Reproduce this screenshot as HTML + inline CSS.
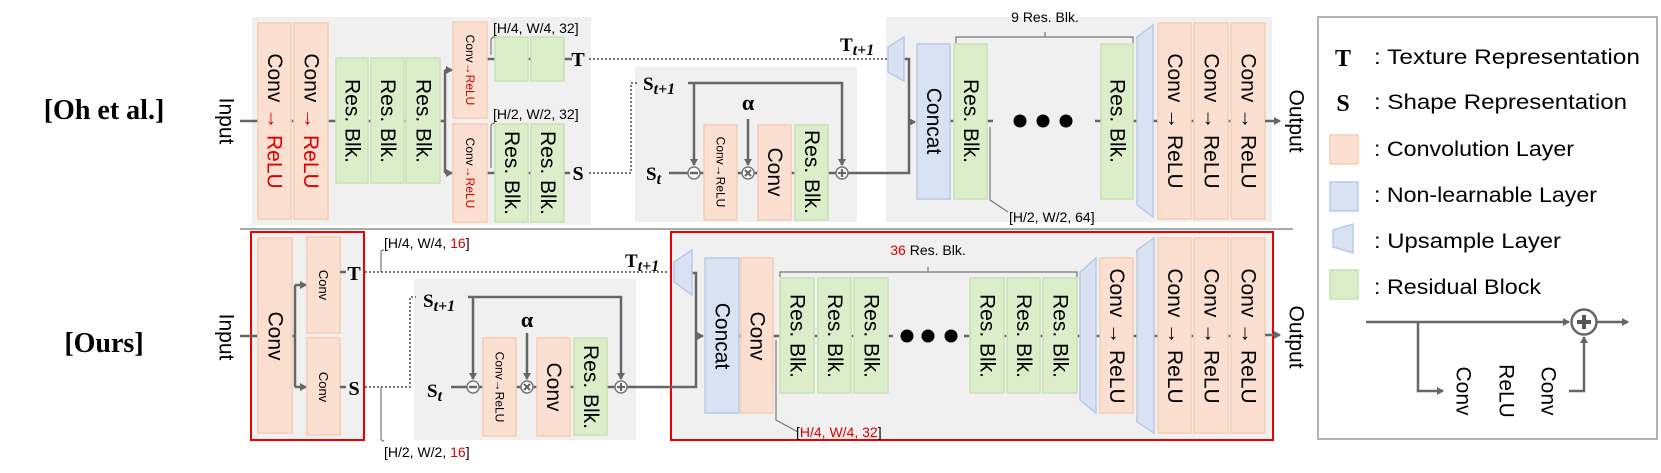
<!DOCTYPE html>
<html><head><meta charset="utf-8"><style>
html,body{margin:0;padding:0;background:#fff;}
svg{display:block}
text{font-family:"Liberation Sans",sans-serif;}
.o{fill:#fbe0d1;stroke:#f7cdb3;stroke-width:1.5}
.g{fill:#dcedca;stroke:#c8e2b2;stroke-width:1.5}
.b{fill:#d9e2f3;stroke:#b8cae8;stroke-width:1.5}
.bg{fill:#f0f0f0}
.ln{stroke:#666;stroke-width:2.5;fill:none}
.th{stroke:#777;stroke-width:1.2;fill:none}
.dt{stroke:#777;stroke-width:2;stroke-dasharray:2,2;fill:none}
.L{font-size:21px}
.M{font-size:13px}
.S{font-size:12px}
.sf{font-family:"Liberation Serif",serif;font-weight:bold}
</style></head><body>
<svg width="1661" height="473" viewBox="0 0 1661 473" xmlns="http://www.w3.org/2000/svg">
<defs>
<marker id="ar" markerWidth="8" markerHeight="8" refX="6" refY="4" orient="auto" markerUnits="userSpaceOnUse"><path d="M0,0 L7,4 L0,8 z" fill="#666"/></marker>
</defs>

<text x="104" y="119" class="sf" font-size="28" text-anchor="middle">[Oh et al.]</text>
<text x="104" y="352" class="sf" font-size="28" text-anchor="middle">[Ours]</text>
<line x1="240" y1="229" x2="1293" y2="229" stroke="#aaa" stroke-width="2"/>

<!-- ============ TOP ROW ============ -->
<rect class="bg" x="252" y="17" width="339" height="208"/>
<rect class="bg" x="635" y="67" width="222" height="155"/>
<rect class="bg" x="886" y="17" width="386" height="205"/>

<text class="L" transform="translate(226,121) rotate(90)" text-anchor="middle" dominant-baseline="central">Input</text>
<line class="ln" x1="240" y1="121" x2="445" y2="121"/>
<path class="ln" d="M445,70 V173"/>
<path class="ln" d="M445,70 H452" marker-end="url(#ar)"/>
<path class="ln" d="M445,173 H452" marker-end="url(#ar)"/>
<line class="ln" x1="487" y1="59" x2="572" y2="59"/>
<line class="ln" x1="487" y1="173" x2="570" y2="173"/>

<rect class="o" x="258" y="23" width="33" height="196"/>
<rect class="o" x="294" y="23" width="34" height="196"/>
<text class="L" transform="translate(274.5,121) rotate(90)" text-anchor="middle" dominant-baseline="central">Conv <tspan fill="#d00">→ ReLU</tspan></text>
<text class="L" transform="translate(311,121) rotate(90)" text-anchor="middle" dominant-baseline="central">Conv <tspan fill="#d00">→ ReLU</tspan></text>
<rect class="g" x="336" y="58" width="32" height="125"/>
<rect class="g" x="371" y="58" width="33" height="125"/>
<rect class="g" x="406" y="58" width="34" height="125"/>
<text class="L" transform="translate(352,121) rotate(90)" text-anchor="middle" dominant-baseline="central">Res. Blk.</text>
<text class="L" transform="translate(387.5,121) rotate(90)" text-anchor="middle" dominant-baseline="central">Res. Blk.</text>
<text class="L" transform="translate(423,121) rotate(90)" text-anchor="middle" dominant-baseline="central">Res. Blk.</text>

<rect class="o" x="453" y="22" width="34" height="96"/>
<rect class="o" x="453" y="124" width="34" height="98"/>
<text class="S" transform="translate(470,70) rotate(90)" text-anchor="middle" dominant-baseline="central">Conv<tspan fill="#d00">→ReLU</tspan></text>
<text class="S" transform="translate(470,173) rotate(90)" text-anchor="middle" dominant-baseline="central">Conv<tspan fill="#d00">→ReLU</tspan></text>
<rect class="g" x="495" y="37" width="33" height="44"/>
<rect class="g" x="531" y="37" width="33" height="44"/>
<rect class="g" x="495" y="124" width="33" height="98"/>
<rect class="g" x="531" y="124" width="33" height="98"/>
<text class="L" transform="translate(511.5,173) rotate(90)" text-anchor="middle" dominant-baseline="central">Res. Blk.</text>
<text class="L" transform="translate(547.5,173) rotate(90)" text-anchor="middle" dominant-baseline="central">Res. Blk.</text>
<text x="493" y="33" font-size="14">[H/4, W/4, 32]</text>
<path class="th" d="M495,37 Q491,37 491,41 V55"/>
<text x="493" y="119" font-size="14">[H/2, W/2, 32]</text>
<path class="th" d="M495,123 Q491,123 491,127 V168"/>
<text x="578" y="66" class="sf" font-size="20" text-anchor="middle">T</text>
<text x="578" y="180" class="sf" font-size="20" text-anchor="middle">S</text>

<path class="dt" d="M589,59 H887"/>
<path class="dt" d="M589,173 H631 V83 H637"/>
<text x="840" y="51" class="sf" font-size="19">T<tspan font-style="italic" font-size="16" dy="4">t+1</tspan></text>

<text x="643" y="90" class="sf" font-size="19">S<tspan font-style="italic" font-size="16" dy="4">t+1</tspan></text>
<text x="646" y="180" class="sf" font-size="19">S<tspan font-style="italic" font-size="16" dy="4">t</tspan></text>
<text x="748" y="110" class="sf" font-size="22" text-anchor="middle">α</text>
<path class="ln" d="M688,83 H842 V165" marker-end="url(#ar)"/>
<path class="ln" d="M694,83 V165" marker-end="url(#ar)"/>
<path class="ln" d="M748,119 V165" marker-end="url(#ar)"/>
<line class="ln" x1="669" y1="173" x2="836" y2="173"/>
<path class="ln" d="M848,173 H909 V59 H904"/>
<path class="ln" d="M909,122 H915" marker-end="url(#ar)"/>
<rect class="o" x="704" y="125" width="33" height="95"/>
<rect class="o" x="758" y="125" width="33" height="95"/>
<rect class="g" x="795" y="125" width="33" height="95"/>
<text class="S" transform="translate(720.5,172) rotate(90)" text-anchor="middle" dominant-baseline="central">Conv→ReLU</text>
<text class="L" transform="translate(774.5,172) rotate(90)" text-anchor="middle" dominant-baseline="central">Conv</text>
<text class="L" transform="translate(811.5,172) rotate(90)" text-anchor="middle" dominant-baseline="central">Res. Blk.</text>
<circle cx="694" cy="173" r="6" fill="#fff" stroke="#777" stroke-width="1.5"/><line x1="690" y1="173" x2="698" y2="173" stroke="#666" stroke-width="2.5"/>
<circle cx="748" cy="173" r="6" fill="#fff" stroke="#777" stroke-width="1.5"/><path d="M745,170 L751,176 M751,170 L745,176" stroke="#666" stroke-width="2.2"/>
<circle cx="842" cy="173" r="6" fill="#fff" stroke="#777" stroke-width="1.5"/><path d="M838,173 H846 M842,169 V177" stroke="#666" stroke-width="2.2"/>

<polygon class="b" points="888,47 904,37 904,81 888,72"/>
<path class="ln" d="M950,121 H954 M987,121 H993 M1095,121 H1101 M1133,121 H1137 M1153,121 H1158 M1191,121 H1194 M1228,121 H1231"/>
<rect class="b" x="917" y="44" width="33" height="155"/>
<rect class="g" x="954" y="44" width="33" height="155"/>
<rect class="g" x="1101" y="44" width="32" height="155"/>
<text class="L" transform="translate(933.5,121) rotate(90)" text-anchor="middle" dominant-baseline="central">Concat</text>
<text class="L" transform="translate(970.5,121) rotate(90)" text-anchor="middle" dominant-baseline="central">Res. Blk.</text>
<text class="L" transform="translate(1117,121) rotate(90)" text-anchor="middle" dominant-baseline="central">Res. Blk.</text>
<circle cx="1020" cy="121" r="6.5"/><circle cx="1043" cy="121" r="6.5"/><circle cx="1066" cy="121" r="6.5"/>
<text x="1045" y="22" font-size="14" text-anchor="middle">9 Res. Blk.</text>
<path class="th" d="M956,43 V37 H1133 V43 M1045,37 V32" stroke-width="1.8"/>
<path class="th" d="M990,127 V200 L1008,212"/>
<text x="1009" y="222" font-size="14">[H/2, W/2, 64]</text>
<polygon class="b" points="1137,37 1153,25 1153,217 1137,205"/>
<rect class="o" x="1158" y="23" width="33" height="196"/>
<rect class="o" x="1194" y="23" width="34" height="196"/>
<rect class="o" x="1231" y="23" width="34" height="196"/>
<text class="L" transform="translate(1174.5,121) rotate(90)" text-anchor="middle" dominant-baseline="central">Conv → ReLU</text>
<text class="L" transform="translate(1211,121) rotate(90)" text-anchor="middle" dominant-baseline="central">Conv → ReLU</text>
<text class="L" transform="translate(1248,121) rotate(90)" text-anchor="middle" dominant-baseline="central">Conv → ReLU</text>
<path class="ln" d="M1265,121 H1280" marker-end="url(#ar)"/>
<text class="L" transform="translate(1296,121) rotate(90)" text-anchor="middle" dominant-baseline="central">Output</text>

<!-- ============ BOTTOM ROW ============ -->
<rect x="251" y="232" width="113" height="208" fill="#f0f0f0" stroke="#e00" stroke-width="2"/>
<rect class="bg" x="414" y="279" width="222" height="161"/>
<rect x="671" y="232" width="602" height="208" fill="#f0f0f0" stroke="#e00" stroke-width="2"/>

<text class="L" transform="translate(226,337) rotate(90)" text-anchor="middle" dominant-baseline="central">Input</text>
<line class="ln" x1="240" y1="336" x2="258" y2="336"/>
<line class="ln" x1="292" y1="336" x2="295" y2="336"/>
<path class="ln" d="M295,285 V387"/>
<path class="ln" d="M295,285 H306" marker-end="url(#ar)"/>
<path class="ln" d="M295,387 H306" marker-end="url(#ar)"/>
<rect class="o" x="258" y="238" width="34" height="195"/>
<text class="L" transform="translate(275,336) rotate(90)" text-anchor="middle" dominant-baseline="central">Conv</text>
<rect class="o" x="307" y="237" width="33" height="96"/>
<rect class="o" x="307" y="338" width="33" height="97"/>
<text class="M" transform="translate(323.5,285) rotate(90)" text-anchor="middle" dominant-baseline="central">Conv</text>
<text class="M" transform="translate(323.5,387) rotate(90)" text-anchor="middle" dominant-baseline="central">Conv</text>
<line class="ln" x1="340" y1="272" x2="346" y2="272"/>
<line class="ln" x1="340" y1="387" x2="346" y2="387"/>
<text x="354" y="280" class="sf" font-size="20" text-anchor="middle">T</text>
<text x="354" y="395" class="sf" font-size="20" text-anchor="middle">S</text>
<path class="dt" d="M365,272 H667"/>
<path class="dt" d="M365,387 H410 V297 H416"/>
<path class="th" d="M381,272 V252 Q381,250 384,250"/>
<text x="384" y="248" font-size="14">[H/4, W/4, <tspan fill="#d00">16</tspan>]</text>
<path class="th" d="M381,387 V438 Q381,441 384,441"/>
<text x="384" y="457" font-size="14">[H/2, W/2, <tspan fill="#d00">16</tspan>]</text>
<text x="625" y="267" class="sf" font-size="19">T<tspan font-style="italic" font-size="16" dy="4">t+1</tspan></text>

<text x="423" y="307" class="sf" font-size="19">S<tspan font-style="italic" font-size="16" dy="4">t+1</tspan></text>
<text x="427" y="397" class="sf" font-size="19">S<tspan font-style="italic" font-size="16" dy="4">t</tspan></text>
<text x="527" y="327" class="sf" font-size="22" text-anchor="middle">α</text>
<path class="ln" d="M468,297 H621 V379" marker-end="url(#ar)"/>
<path class="ln" d="M473,297 V379" marker-end="url(#ar)"/>
<path class="ln" d="M527,333 V379" marker-end="url(#ar)"/>
<line class="ln" x1="451" y1="387" x2="615" y2="387"/>
<path class="ln" d="M627,387 H696 V273 H692"/>
<path class="ln" d="M696,336 H703" marker-end="url(#ar)"/>
<rect class="o" x="483" y="338" width="33" height="98"/>
<rect class="o" x="537" y="338" width="33" height="98"/>
<rect class="g" x="574" y="338" width="33" height="97"/>
<text class="S" transform="translate(499.5,387) rotate(90)" text-anchor="middle" dominant-baseline="central">Conv→ReLU</text>
<text class="L" transform="translate(553.5,387) rotate(90)" text-anchor="middle" dominant-baseline="central">Conv</text>
<text class="L" transform="translate(590.5,387) rotate(90)" text-anchor="middle" dominant-baseline="central">Res. Blk.</text>
<circle cx="473" cy="387" r="6" fill="#fff" stroke="#777" stroke-width="1.5"/><line x1="469" y1="387" x2="477" y2="387" stroke="#666" stroke-width="2.5"/>
<circle cx="527" cy="387" r="6" fill="#fff" stroke="#777" stroke-width="1.5"/><path d="M524,384 L530,390 M530,384 L524,390" stroke="#666" stroke-width="2.2"/>
<circle cx="621" cy="387" r="6" fill="#fff" stroke="#777" stroke-width="1.5"/><path d="M617,387 H625 M621,383 V391" stroke="#666" stroke-width="2.2"/>

<polygon class="b" points="674,262 692,250 692,295 674,282"/>
<path class="ln" d="M739,336 H741 M773,336 H780 M814,336 H818 M851,336 H854 M888,336 H893 M964,336 H970 M1004,336 H1007 M1040,336 H1043 M1077,336 H1080 M1096,336 H1100 M1133,336 H1137 M1154,336 H1158 M1191,336 H1194 M1228,336 H1231"/>
<rect class="b" x="705" y="258" width="34" height="155"/>
<rect class="o" x="741" y="258" width="32" height="155"/>
<text class="L" transform="translate(722,336) rotate(90)" text-anchor="middle" dominant-baseline="central">Concat</text>
<text class="L" transform="translate(757,336) rotate(90)" text-anchor="middle" dominant-baseline="central">Conv</text>
<path class="th" d="M776,340 V420 L798,432"/>
<text x="796" y="437" font-size="14">[<tspan fill="#d00">H/4, W/4, 32</tspan>]</text>
<text x="928" y="255" font-size="14" text-anchor="middle"><tspan fill="#d00">36</tspan> Res. Blk.</text>
<path class="th" d="M780,277 V272 H1077 V277 M928,272 V267" stroke-width="1.8"/>
<rect class="g" x="780" y="278" width="34" height="115"/>
<rect class="g" x="818" y="278" width="33" height="115"/>
<rect class="g" x="854" y="278" width="34" height="115"/>
<rect class="g" x="970" y="278" width="34" height="115"/>
<rect class="g" x="1007" y="278" width="33" height="115"/>
<rect class="g" x="1043" y="278" width="34" height="115"/>
<text class="L" transform="translate(797,336) rotate(90)" text-anchor="middle" dominant-baseline="central">Res. Blk.</text>
<text class="L" transform="translate(834.5,336) rotate(90)" text-anchor="middle" dominant-baseline="central">Res. Blk.</text>
<text class="L" transform="translate(871,336) rotate(90)" text-anchor="middle" dominant-baseline="central">Res. Blk.</text>
<text class="L" transform="translate(987,336) rotate(90)" text-anchor="middle" dominant-baseline="central">Res. Blk.</text>
<text class="L" transform="translate(1023.5,336) rotate(90)" text-anchor="middle" dominant-baseline="central">Res. Blk.</text>
<text class="L" transform="translate(1060,336) rotate(90)" text-anchor="middle" dominant-baseline="central">Res. Blk.</text>
<circle cx="907" cy="336" r="6.5"/><circle cx="928" cy="336" r="6.5"/><circle cx="951" cy="336" r="6.5"/>
<polygon class="b" points="1080,272 1096,258 1096,413 1080,400"/>
<rect class="o" x="1100" y="258" width="33" height="155"/>
<text class="L" transform="translate(1116.5,336) rotate(90)" text-anchor="middle" dominant-baseline="central">Conv → ReLU</text>
<polygon class="b" points="1137,250 1154,238 1154,433 1137,422"/>
<rect class="o" x="1158" y="238" width="33" height="195"/>
<rect class="o" x="1194" y="238" width="34" height="195"/>
<rect class="o" x="1231" y="238" width="34" height="195"/>
<text class="L" transform="translate(1174.5,336) rotate(90)" text-anchor="middle" dominant-baseline="central">Conv → ReLU</text>
<text class="L" transform="translate(1211,336) rotate(90)" text-anchor="middle" dominant-baseline="central">Conv → ReLU</text>
<text class="L" transform="translate(1248,336) rotate(90)" text-anchor="middle" dominant-baseline="central">Conv → ReLU</text>
<path class="ln" d="M1265,335 H1280" marker-end="url(#ar)"/>
<text class="L" transform="translate(1296,337) rotate(90)" text-anchor="middle" dominant-baseline="central">Output</text>

<!-- ============ LEGEND ============ -->
<rect x="1318" y="17" width="339" height="422" fill="#fff" stroke="#999" stroke-width="1.5"/>
<text x="1343" y="66" class="sf" font-size="24" text-anchor="middle">T</text>
<text x="1374" y="64" font-size="21" textLength="266" lengthAdjust="spacingAndGlyphs">: Texture Representation</text>
<text x="1343" y="111" class="sf" font-size="24" text-anchor="middle">S</text>
<text x="1374" y="109" font-size="21" textLength="253" lengthAdjust="spacingAndGlyphs">: Shape Representation</text>
<rect class="o" x="1330" y="135" width="28" height="29"/>
<text x="1374" y="156" font-size="21" textLength="200" lengthAdjust="spacingAndGlyphs">: Convolution Layer</text>
<rect class="b" x="1330" y="182" width="28" height="29"/>
<text x="1374" y="202" font-size="21" textLength="223" lengthAdjust="spacingAndGlyphs">: Non-learnable Layer</text>
<polygon class="b" points="1333,230 1353,224 1353,253 1333,247"/>
<text x="1374" y="248" font-size="21" textLength="187" lengthAdjust="spacingAndGlyphs">: Upsample Layer</text>
<rect class="g" x="1330" y="270" width="28" height="29"/>
<text x="1374" y="294" font-size="21" textLength="167" lengthAdjust="spacingAndGlyphs">: Residual Block</text>
<path class="ln" d="M1366,322 H1569" marker-end="url(#ar)"/>
<path class="ln" d="M1597,322 H1628" marker-end="url(#ar)"/>
<path class="ln" d="M1418,322 V391 H1443" marker-end="url(#ar)"/>
<path class="ln" d="M1569,391 H1584 V337" marker-end="url(#ar)"/>
<circle cx="1584" cy="322" r="12.5" fill="#fff" stroke="#666" stroke-width="2.5"/>
<path d="M1577,322 H1591 M1584,315 V329" stroke="#555" stroke-width="4"/>
<text class="L" transform="translate(1463,391) rotate(90)" text-anchor="middle" dominant-baseline="central">Conv</text>
<text class="L" transform="translate(1506,391) rotate(90)" text-anchor="middle" dominant-baseline="central">ReLU</text>
<text class="L" transform="translate(1548,391) rotate(90)" text-anchor="middle" dominant-baseline="central">Conv</text>
</svg>
</body></html>
